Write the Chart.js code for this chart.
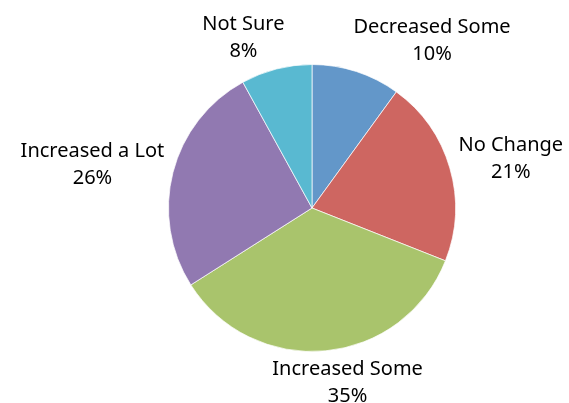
<!DOCTYPE html>
<html>
<head>
<meta charset="utf-8">
<script src="https://cdn.jsdelivr.net/npm/chart.js@4"></script>
<style>
  html, body { margin: 0; padding: 0; background: #fff; }
  #pie { display: block; }
</style>
</head>
<body>
<canvas id="pie" width="569" height="403"></canvas>
<script>
const categories = ["Decreased Some", "No Change", "Increased Some", "Increased a Lot", "Not Sure"];
const shares = [10, 21, 35, 26, 8];
const sliceColors = ["#6397C9", "#CE6661", "#A9C46C", "#9179B1", "#59B9D1"];

const labelFont = "20px 'Noto Sans', sans-serif";
const lineH = 27;

// outside-end labels, placed like Excel's best fit
const outsideLabels = {
  id: "outside-labels",
  afterDatasetsDraw: (chart) => {
    const ctx = chart.ctx;
    const meta = chart.getDatasetMeta(0);
    ctx.save();
    ctx.font = labelFont;
    ctx.fillStyle = "#000";
    ctx.textAlign = "center";
    ctx.textBaseline = "middle";
    meta.data.forEach((arc, i) => {
      const mid = (arc.startAngle + arc.endAngle) / 2;
      const sx = Math.cos(mid), sy = Math.sin(mid);
      const r = arc.outerRadius + 9;
      const px = arc.x + sx * r;
      const py = arc.y + sy * r;
      const lines = [categories[i], shares[i] + "%"];
      const w = Math.max(...lines.map((t) => ctx.measureText(t).width));
      const h = lines.length * lineH - 8;
      const k = Math.max(-1, Math.min(1, sx * 3));
      const cx = px + k * w / 2;
      const cy = py + sy * h / 2;
      lines.forEach((t, j) => {
        ctx.fillText(t, cx, cy + (j - (lines.length - 1) / 2) * lineH);
      });
    });
    ctx.restore();
  },
};

new Chart(document.getElementById("pie").getContext("2d"), {
  type: "pie",
  data: {
    labels: categories,
    datasets: [
      {
        data: shares,
        backgroundColor: sliceColors,
        borderColor: "rgba(255,255,255,0.7)",
        borderWidth: 1,
      },
    ],
  },
  options: {
    responsive: false,
    animation: false,
    layout: {
      padding: { left: 168, right: 113, top: 64, bottom: 51 },
    },
    plugins: {
      legend: { display: false },
      tooltip: { enabled: false },
    },
  },
  plugins: [outsideLabels],
});
</script>
</body>
</html>
